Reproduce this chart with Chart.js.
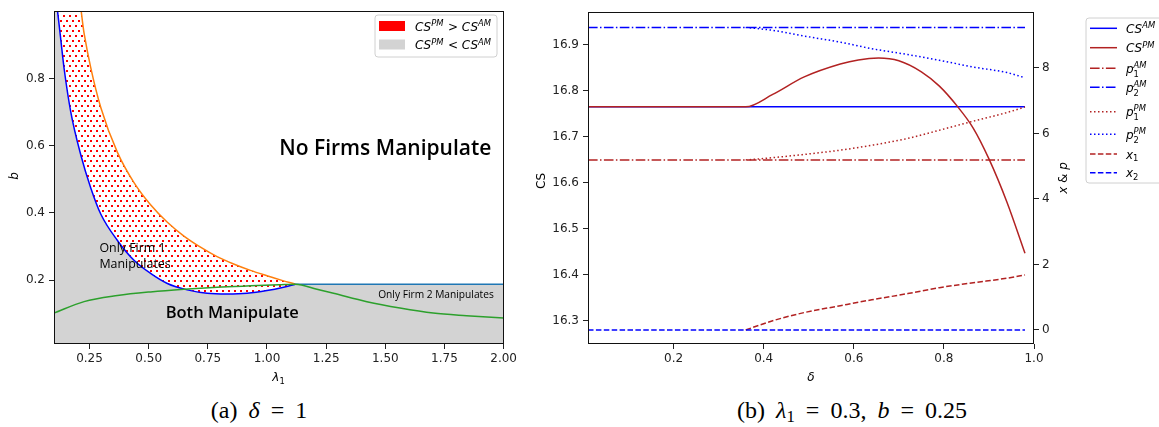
<!DOCTYPE html>
<html><head><meta charset="utf-8">
<script src="https://cdn.jsdelivr.net/npm/chart.js@4.4.1/dist/chart.umd.min.js"></script>
<style>
html,body{margin:0;padding:0;background:#fff;}
body{width:1159px;height:427px;position:relative;overflow:hidden;}
canvas{position:absolute;top:0;}
#ca{left:0;} #cb{left:520px;}
.cap{position:absolute;top:396px;height:28px;line-height:28px;text-align:center;font-family:"Liberation Serif","DejaVu Serif",serif;font-size:24px;color:#000;white-space:nowrap;word-spacing:5px;}
.cap sub{font-size:70%;vertical-align:-0.25em;line-height:0;}
</style></head><body>
<canvas id="ca" width="520" height="395"></canvas>
<canvas id="cb" width="639" height="395"></canvas>
<div class="cap" style="left:109px;width:300px">(a) <i>δ</i> = 1</div>
<div class="cap" style="left:702px;width:300px">(b) <i>λ</i><sub>1</sub> = 0.3, <i>b</i> = 0.25</div>
<script>
// ---------------- Panel (a) data ----------------
const lamBlue  = [0.115, 0.128, 0.143, 0.171, 0.213, 0.255, 0.298, 0.368, 0.438, 0.508, 0.579, 0.663, 0.747, 0.832, 0.916, 1.0, 1.07, 1.12];
const bBlue    = [1.0, 0.92, 0.828, 0.70, 0.573, 0.475, 0.396, 0.318, 0.259, 0.220, 0.190, 0.171, 0.161, 0.159, 0.161, 0.169, 0.179, 0.188];
const lamOrange= [0.20, 0.227, 0.255, 0.298, 0.368, 0.438, 0.508, 0.579, 0.649, 0.719, 0.789, 0.859, 0.93, 1.0, 1.06, 1.12];
const bOrange  = [1.06, 0.935, 0.833, 0.713, 0.580, 0.490, 0.424, 0.372, 0.331, 0.298, 0.270, 0.248, 0.229, 0.213, 0.200, 0.188];
const lamGreen = [0.1, 0.227, 0.368, 0.508, 0.649, 0.789, 0.93, 1.05, 1.12, 1.211, 1.281, 1.422, 1.562, 1.702, 1.843, 2.0];
const bGreen   = [0.102, 0.136, 0.154, 0.165, 0.173, 0.179, 0.183, 0.186, 0.188, 0.173, 0.161, 0.136, 0.117, 0.102, 0.094, 0.087];
const lamFirm2 = [1.12, 2.0];
const bFirm2   = [0.188, 0.188];
const tickLam  = [0.25, 0.5, 0.75, 1.0, 1.25, 1.5, 1.75, 2.0];
const tickB    = [0.2, 0.4, 0.6, 0.8];

// ---------------- Panel (b) data ----------------
const deltaAM  = [0.01, 0.98];
const csAM     = [16.765, 16.765];
const p1AM     = [5.19, 5.19];
const p2AM     = [9.24, 9.24];
const x2       = [0, 0];
const deltaCSPM= [0.01, 0.36, 0.42, 0.49, 0.57, 0.61, 0.655, 0.70, 0.75, 0.79, 0.83, 0.865, 0.90, 0.94, 0.98];
const csPM     = [16.765, 16.765, 16.792, 16.830, 16.858, 16.867, 16.871, 16.865, 16.841, 16.810, 16.766, 16.719, 16.652, 16.558, 16.447];
const deltaPM  = [0.36, 0.42, 0.49, 0.57, 0.64, 0.72, 0.79, 0.865, 0.94, 0.98];
const p1PM     = [5.19, 5.26, 5.36, 5.49, 5.64, 5.85, 6.10, 6.375, 6.64, 6.81];
const p2PM     = [9.24, 9.15, 8.975, 8.79, 8.59, 8.41, 8.235, 8.03, 7.86, 7.70];
const x1       = [0, 0.28, 0.53, 0.74, 0.92, 1.11, 1.29, 1.44, 1.58, 1.68];
const tickDelta= [0.2, 0.4, 0.6, 0.8, 1.0];
const tickCS   = [16.3, 16.4, 16.5, 16.6, 16.7, 16.8, 16.9];
const tickXP   = [0, 2, 4, 6, 8];

// ---------------- helpers ----------------
const pts = (xs, ys) => xs.map((x, i) => ({x: x, y: ys[i]}));
const FAM = '"DejaVu Sans", sans-serif';
const INK = '#222';
function setF(ctx, size, italic){ ctx.font = (italic ? 'italic ' : '') + size + 'px ' + FAM; }
function richWidth(ctx, parts, size){
  let w = 0;
  for (const p of parts){
    if (p.t !== undefined){ setF(ctx, size, p.i); w += ctx.measureText(p.t).width; }
    else { const s = size*0.7; let a = 0, b = 0;
      if (p.sup){ setF(ctx, s, true); a = ctx.measureText(p.sup).width; }
      if (p.sub){ setF(ctx, s, false); b = ctx.measureText(p.sub).width; }
      w += Math.max(a, b) + size*0.05; }
  }
  return w;
}
function drawRich(ctx, parts, x, y, size, align){
  const w = richWidth(ctx, parts, size);
  let cx = align === 'center' ? x - w/2 : (align === 'right' ? x - w : x);
  ctx.textAlign = 'left'; ctx.textBaseline = 'alphabetic';
  for (const p of parts){
    if (p.t !== undefined){ setF(ctx, size, p.i); ctx.fillText(p.t, cx, y); cx += ctx.measureText(p.t).width; }
    else { const s = size*0.7; const both = p.sup && p.sub; let a = 0, b = 0;
      if (p.sup){ setF(ctx, s, true); ctx.fillText(p.sup, cx, y - size*(both ? 0.42 : 0.36)); a = ctx.measureText(p.sup).width; }
      if (p.sub){ setF(ctx, s, false); ctx.fillText(p.sub, cx, y + size*(both ? 0.32 : 0.24)); b = ctx.measureText(p.sub).width; }
      cx += Math.max(a, b) + size*0.05; }
  }
}
function drawRotated(ctx, parts, x, y, size){
  ctx.save(); ctx.translate(x, y); ctx.rotate(-Math.PI/2);
  drawRich(ctx, parts, 0, size*0.36, size, 'center');
  ctx.restore();
}
function frame(chart){
  const a = chart.chartArea, ctx = chart.ctx;
  ctx.save(); ctx.strokeStyle = '#111'; ctx.lineWidth = 1;
  ctx.strokeRect(Math.round(a.left) + 0.5, Math.round(a.top) + 0.5, Math.round(a.right) - Math.round(a.left) - 1, Math.round(a.bottom) - Math.round(a.top) - 1);
  ctx.restore();
}
function roundBox(ctx, x, y, w, h, r){
  ctx.beginPath(); ctx.moveTo(x + r, y); ctx.lineTo(x + w - r, y); ctx.quadraticCurveTo(x + w, y, x + w, y + r);
  ctx.lineTo(x + w, y + h - r); ctx.quadraticCurveTo(x + w, y + h, x + w - r, y + h); ctx.lineTo(x + r, y + h);
  ctx.quadraticCurveTo(x, y + h, x, y + h - r); ctx.lineTo(x, y + r); ctx.quadraticCurveTo(x, y, x + r, y); ctx.closePath();
}
const fixedTicks = arr => scale => { scale.ticks = arr.map(v => ({value: v})); };
function axis(extra){
  return Object.assign({
    type: 'linear',
    grid: {display: true, drawOnChartArea: false, drawTicks: true, tickLength: 5, tickColor: INK, color: INK},
    border: {display: false}
  }, extra);
}
const tickOpts = (pad, cb) => ({font: {family: FAM, size: 12}, color: INK, padding: pad, maxRotation: 0, autoSkip: false, callback: cb});

// ---------------- Panel (a) ----------------
const ctxA = document.getElementById('ca').getContext('2d');
const tile = document.createElement('canvas'); tile.width = 6; tile.height = 10;
const tg = tile.getContext('2d');
tg.fillStyle = '#ffffff'; tg.fillRect(0, 0, 6, 10);
tg.fillStyle = '#ff0000'; tg.fillRect(0, 0, 2, 2); tg.fillRect(3, 5, 2, 2);
const dots = ctxA.createPattern(tile, 'repeat');
const B_MAX = 1.0, B_MIN = 0.01;
const GRAY = '#d3d3d3', ORANGE = '#ff7f0e';
// upper boundary of the grey region: left edge strip, blue curve, then the Firm-2 line
const grayUpper = [{x: 0.1, y: B_MAX}].concat(pts(lamBlue, bBlue), pts(lamFirm2, bFirm2).slice(1));

const decorA = {
  id: 'decorA',
  afterDatasetsDraw(chart){ frame(chart); },
  afterDraw(chart){
    const ctx = chart.ctx, x = chart.scales.x, y = chart.scales.y;
    ctx.save(); ctx.fillStyle = '#000';
    ctx.textAlign = 'center'; ctx.textBaseline = 'middle';
    ctx.font = '600 21px "Open Sans", "Noto Sans"';
    ctx.fillText('No Firms Manipulate', x.getPixelForValue(1.50), y.getPixelForValue(0.589));
    ctx.font = '600 16.5px "Open Sans", "Noto Sans"';
    ctx.fillText('Both Manipulate', x.getPixelForValue(0.853), y.getPixelForValue(0.10));
    ctx.font = '10.2px "Open Sans", "Noto Sans"';
    ctx.fillText('Only Firm 2 Manipulates', x.getPixelForValue(1.714), y.getPixelForValue(0.155));
    ctx.textAlign = 'left'; ctx.font = '12.4px "Open Sans", "Noto Sans"';
    ctx.fillText('Only Firm 1', x.getPixelForValue(0.292), y.getPixelForValue(0.295));
    ctx.fillText('Manipulates', x.getPixelForValue(0.292), y.getPixelForValue(0.248));
    // legend
    roundBox(ctx, 375, 15, 122, 42, 3);
    ctx.fillStyle = 'rgba(255,255,255,0.85)'; ctx.fill();
    ctx.strokeStyle = '#d0d0d0'; ctx.lineWidth = 1; ctx.stroke();
    ctx.fillStyle = '#ff0000'; ctx.fillRect(379, 21, 26, 10);
    ctx.fillStyle = GRAY; ctx.fillRect(379, 39.5, 26, 10);
    ctx.fillStyle = '#000';
    drawRich(ctx, [{t:'CS', i:1}, {sup:'PM'}, {t:' > '}, {t:'CS', i:1}, {sup:'AM'}], 415, 30.5, 12, 'left');
    drawRich(ctx, [{t:'CS', i:1}, {sup:'PM'}, {t:' < '}, {t:'CS', i:1}, {sup:'AM'}], 415, 49.3, 12, 'left');
    // axis titles
    drawRich(ctx, [{t:'λ', i:1}, {sub:'1'}], (chart.chartArea.left + chart.chartArea.right)/2, 381, 12, 'center');
    drawRotated(ctx, [{t:'b', i:1}], 13.5, 176, 12);
    ctx.restore();
  }
};

new Chart(ctxA, {
  type: 'line',
  data: { datasets: [
    { label: 'boundary-blue', data: pts(lamBlue, bBlue), borderColor: '#0000ff', borderWidth: 1.5,
      fill: false, cubicInterpolationMode: 'monotone', order: 2 },
    { label: 'boundary-orange', data: [{x: lamBlue[0], y: B_MAX + 0.08}].concat(pts(lamOrange, bOrange)),
      borderColor: ORANGE, borderWidth: 1.5, cubicInterpolationMode: 'monotone',
      segment: { borderColor: c => c.p0DataIndex === 0 ? 'rgba(0,0,0,0)' : ORANGE },
      fill: {target: 0, above: dots, below: dots}, backgroundColor: dots, order: 3 },
    { label: 'boundary-green', data: pts(lamGreen, bGreen), borderColor: '#2ca02c', borderWidth: 1.5,
      cubicInterpolationMode: 'monotone', fill: false, order: 0 },
    { label: 'boundary-firm2', data: pts(lamFirm2, bFirm2), borderColor: '#1f77b4', borderWidth: 1.5,
      fill: false, order: 1 },
    { label: 'grey-region', data: grayUpper, borderWidth: 0, borderColor: 'rgba(0,0,0,0)',
      cubicInterpolationMode: 'monotone', fill: 'start', backgroundColor: GRAY, order: 5 }
  ]},
  options: {
    responsive: false, animation: false, devicePixelRatio: 1,
    layout: {padding: {left: 0, top: 9, right: 16, bottom: 0}},
    elements: {point: {radius: 0, hoverRadius: 0}, line: {tension: 0}},
    plugins: {legend: {display: false}, tooltip: {enabled: false}},
    events: [],
    scales: {
      x: axis({min: 0.1, max: 2.0, afterBuildTicks: fixedTicks(tickLam), afterFit: s => { s.height = 51; },
        ticks: tickOpts(3, v => v.toFixed(2))}),
      y: axis({min: B_MIN, max: B_MAX, afterBuildTicks: fixedTicks(tickB), afterFit: s => { s.width = 54; },
        ticks: tickOpts(4, v => v.toFixed(1))})
    }
  },
  plugins: [decorA]
});

// ---------------- Panel (b) ----------------
const RED = '#b22222', BLUE = '#0000ff';
const DASH = [5.5, 2.4], DASHDOT = [9.6, 2.4, 1.5, 2.4], DOT = [1.5, 2.5];
const seriesLabels = [
  [{t:'CS', i:1}, {sup:'AM'}],
  [{t:'CS', i:1}, {sup:'PM'}],
  [{t:'p', i:1}, {sub:'1', sup:'AM'}],
  [{t:'p', i:1}, {sub:'2', sup:'AM'}],
  [{t:'p', i:1}, {sub:'1', sup:'PM'}],
  [{t:'p', i:1}, {sub:'2', sup:'PM'}],
  [{t:'x', i:1}, {sub:'1'}],
  [{t:'x', i:1}, {sub:'2'}]
];
const legendRowsY = [28.3, 47.7, 68.3, 87.3, 111.7, 134.3, 154, 172.7];

const decorB = {
  id: 'decorB',
  afterDatasetsDraw(chart){ frame(chart); },
  afterDraw(chart){
    const ctx = chart.ctx;
    ctx.save();
    roundBox(ctx, 566, 18, 90, 165, 3);
    ctx.fillStyle = 'rgba(255,255,255,0.85)'; ctx.fill();
    ctx.strokeStyle = '#d0d0d0'; ctx.lineWidth = 1; ctx.stroke();
    chart.data.datasets.forEach((ds, i) => {
      const yy = legendRowsY[i];
      ctx.save(); ctx.strokeStyle = ds.borderColor; ctx.lineWidth = ds.borderWidth;
      ctx.setLineDash(ds.borderDash || []);
      ctx.beginPath(); ctx.moveTo(570, yy); ctx.lineTo(597, yy); ctx.stroke(); ctx.restore();
      ctx.fillStyle = '#000';
      drawRich(ctx, seriesLabels[i], 606, yy + 4.5, 12, 'left');
    });
    ctx.fillStyle = '#000';
    drawRich(ctx, [{t:'δ', i:1}], (chart.chartArea.left + chart.chartArea.right)/2, 381, 12, 'center');
    drawRotated(ctx, [{t:'CS'}], 21, 181, 12);
    drawRotated(ctx, [{t:'x', i:1}, {t:' & '}, {t:'p', i:1}], 543, 178, 12);
    ctx.restore();
  }
};

const line = (lbl, xs, ys, color, dash, axisId, order, smooth) => ({
  label: lbl, data: pts(xs, ys), borderColor: color, borderWidth: 1.5, borderDash: dash,
  yAxisID: axisId, fill: false, order: order,
  cubicInterpolationMode: smooth ? 'monotone' : 'default', tension: 0
});

new Chart(document.getElementById('cb').getContext('2d'), {
  type: 'line',
  data: { datasets: [
    line('CS^AM', deltaAM, csAM, BLUE, [], 'y', 3, false),
    line('CS^PM', deltaCSPM, csPM, RED, [], 'y', 1, true),
    line('p1^AM', deltaAM, p1AM, RED, DASHDOT, 'y2', 1, false),
    line('p2^AM', deltaAM, p2AM, BLUE, DASHDOT, 'y2', 1, false),
    line('p1^PM', deltaPM, p1PM, RED, DOT, 'y2', 2, true),
    line('p2^PM', deltaPM, p2PM, BLUE, DOT, 'y2', 2, true),
    line('x1', deltaPM, x1, RED, DASH, 'y2', 2, true),
    line('x2', deltaAM, x2, BLUE, DASH, 'y2', 1, false)
  ]},
  options: {
    responsive: false, animation: false, devicePixelRatio: 1,
    layout: {padding: {left: 0, top: 12, right: 85, bottom: 0}},
    elements: {point: {radius: 0, hoverRadius: 0}},
    plugins: {legend: {display: false}, tooltip: {enabled: false}},
    events: [],
    scales: {
      x: axis({min: 0.01, max: 1.0, afterBuildTicks: fixedTicks(tickDelta), afterFit: s => { s.height = 51; },
        ticks: tickOpts(3, v => v.toFixed(1))}),
      y: axis({position: 'left', min: 16.25, max: 16.971, afterBuildTicks: fixedTicks(tickCS), afterFit: s => { s.width = 68; },
        ticks: tickOpts(4, v => v.toFixed(1))}),
      y2: axis({position: 'right', min: -0.43, max: 9.71, afterBuildTicks: fixedTicks(tickXP), afterFit: s => { s.width = 40; },
        ticks: tickOpts(3, v => String(v))})
    }
  },
  plugins: [decorB]
});
</script>
</body></html>
